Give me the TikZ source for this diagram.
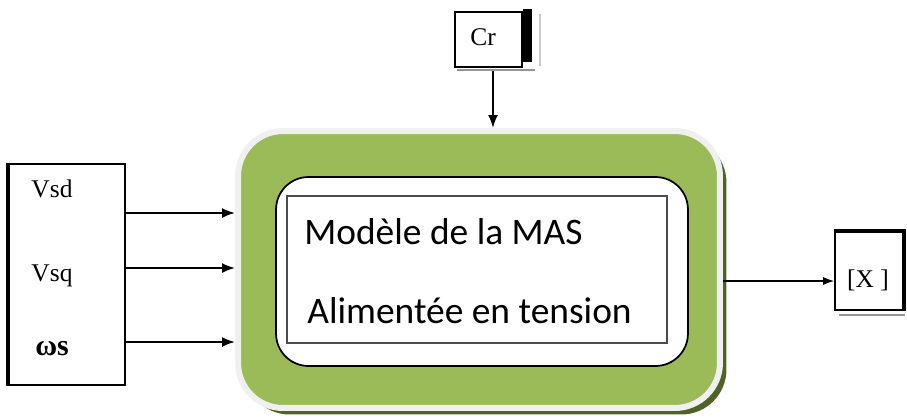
\documentclass[tikz,border=0pt]{standalone}
\usepackage{fontspec}
\setmainfont{Liberation Serif}
\newfontfamily\calibrifont{Carlito}
\usetikzlibrary{positioning,arrows.meta,shadows}
\definecolor{masgreen}{RGB}{155,187,89}
\definecolor{masshadow}{RGB}{79,98,40}
\definecolor{masedge}{RGB}{240,240,240}
\definecolor{blockgray}{RGB}{150,150,150}
\tikzset{
  greenbox/.style={rectangle, rounded corners=9mm, fill=masgreen, draw=masedge, line width=1.2mm,
    minimum width=96.4mm, minimum height=55.4mm,
    drop shadow={shadow xshift=1.3mm, shadow yshift=-1.3mm, fill=masshadow, opacity=1}},
  roundwhite/.style={rectangle, rounded corners=6.5mm, fill=white, draw=black, line width=0.35mm,
    minimum width=82.4mm, minimum height=37.8mm},
  modbox/.style={rectangle, draw=black!70, line width=0.45mm, minimum width=76mm, minimum height=29.4mm},
  sigbox/.style={rectangle, draw=black, line width=0.35mm, fill=white, inner sep=0pt},
  siglabel/.style={font=\fontsize{14.5}{16}\selectfont, inner sep=0pt},
  bigtext/.style={font=\calibrifont\fontsize{21.3}{24}\selectfont, anchor=west, inner sep=0pt},
  arrowstyle/.style={-{Latex[length=2.6mm,width=2mm]}, line width=0.4mm},
  thinarrow/.style={-{Latex[length=2.2mm,width=1.6mm]}, line width=0.25mm}
}

\begin{document}
\begin{tikzpicture}[x=0.02cm, y=-0.02cm]
  \useasboundingbox (0,0) rectangle (907,417);
  % bloc central
  \node[greenbox] (model) at (479,269.5) {};
  \node[roundwhite] (inner) at (482,271.5) {};
  \node[modbox] (mas) at (477,269.5) {};
  \node[bigtext] (title) at (304,232) {Modèle de la MAS};
  \node[bigtext] (supply) at (307,311) {Alimentée en tension};

  % entrees
  \node[sigbox, minimum width=23.6mm, minimum height=44.2mm] (src) at (66,274.5) {};
  \draw[line width=0.35mm] ([xshift=0.5mm]src.north west) -- ([xshift=0.5mm]src.south west);
  \node[siglabel] (vsd) at (52,189) {Vsd};
  \node[siglabel] (vsq) at (52,276) {Vsq};
  \node[siglabel, font=\fontsize{17}{19}\selectfont\bfseries] (ws) at (52,349) {ωs};
  \coordinate (o1) at (125,213);
  \coordinate (o2) at (125,268);
  \coordinate (o3) at (125,342);
  \draw[arrowstyle] (o1) -- (o1 -| model.west);
  \draw[arrowstyle] (o2) -- (o2 -| model.west);
  \draw[arrowstyle] (o3) -- (o3 -| model.west);

  % couple resistant
  \node[sigbox, minimum width=13.4mm, minimum height=11mm] (cr) at (488.5,39.5) {};
  \fill[black] (cr.north east) ++(0,-2) rectangle (532,62);
  \draw[blockgray, line width=0.45mm] (457,70) -- (535,70);
  \draw[black!20, line width=0.3mm] (540,14) -- (540,66);
  \node[siglabel] (crlabel) at (483,37) {Cr};
  \coordinate (crout) at (493,71);
  \draw[arrowstyle] (crout) -- (crout |- model.north);

  % sortie
  \node[sigbox, minimum width=13.6mm, minimum height=15.6mm] (xout) at (869,271) {};
  \draw[line width=0.7mm] (xout.north west) -- (xout.north east) -- (xout.south east);
  \draw[blockgray, line width=0.45mm] (839,315) -- (905,315);
  \node[siglabel] (xlabel) at (868,280) {[X ]};
  \coordinate (xin) at (model.east |- 0,281);
  \draw[thinarrow] (xin) -- (xin -| xout.west);
\end{tikzpicture}
\end{document}
